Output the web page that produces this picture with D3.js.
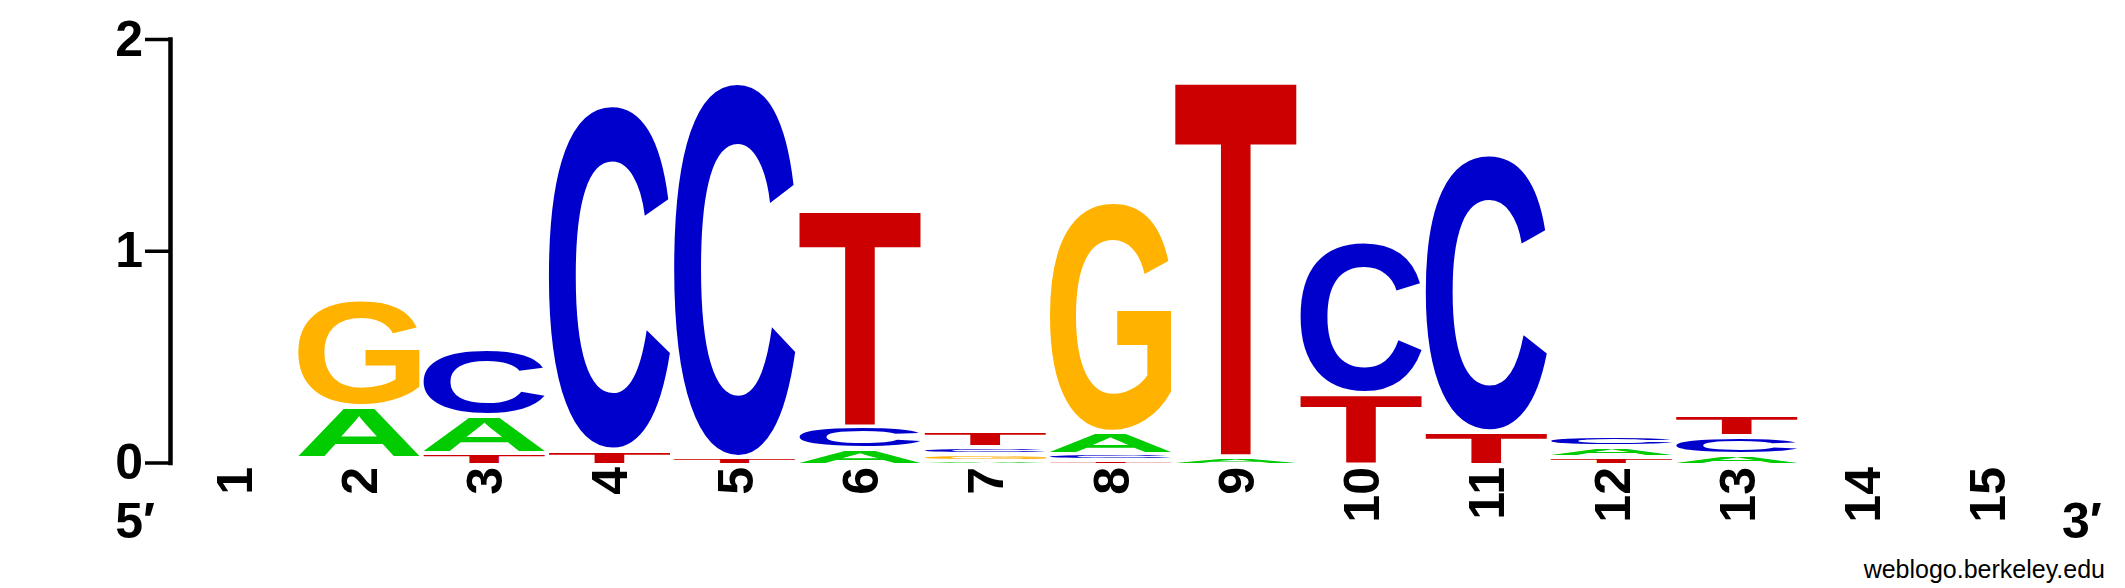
<!DOCTYPE html>
<html>
<head>
<style>
  body {
    background-color: white;
    margin: 0px;
  }
  svg {
    display: block;
  }
</style>
<script src="https://d3js.org/d3.v7.min.js"></script>
</head>
<body>
<svg></svg>
<script>
// information content (bits) per base
const positions = [1, 2, 3, 4, 5, 6, 7, 8, 9, 10, 11, 12, 13, 14, 15];
const bitsA = [0, 0.244, 0.178, 0,     0,     0.075, 0.018, 0.103, 0.039, 0,     0,     0.050, 0.051, 0, 0];
const bitsC = [0, 0.016, 0.313, 1.628, 1.768, 0.104, 0.033, 0.030, 0,     0.717, 1.308, 0.052, 0.084, 0, 0];
const bitsG = [0, 0.504, 0,     0,     0,     0,     0.030, 1.087, 0,     0,     0,     0,     0,     0, 0];
const bitsT = [0, 0.013, 0.054, 0.070, 0.035, 1.020, 0.074, 0.021, 1.765, 0.335, 0.157, 0.035, 0.098, 0, 0];
const yTicks = [0, 1, 2];

const bases = ["A", "C", "G", "T"];
const baseColor = {A: "#00cc00", C: "#0000cc", G: "#ffb300", T: "#cc0000"};
const fontFamily = "'Liberation Sans', Arial, Helvetica, sans-serif";
const glyphSize = 1000;

const width = 2125,
    height = 588;

const svg = d3.select("svg")
    .attr("width", width)
    .attr("height", height);

svg.append("rect")
    .attr("width", width)
    .attr("height", height)
    .attr("fill", "white");

const x = d3.scaleBand()
    .domain(positions)
    .range([171, 2050])
    .paddingInner(0.034)
    .paddingOuter(0.017);

const y = d3.scaleLinear()
    .domain([0, 2])
    .range([462.5, 39]);

// raster ink box of each glyph, so a letter can be stretched to fill its slot
const glyph = {};
(function() {
  const size = 1500, ox = 250, oy = 1150;
  const c = document.createElement("canvas");
  c.width = size;
  c.height = size;
  const ctx = c.getContext("2d");
  ctx.font = "bold " + glyphSize + "px " + fontFamily;
  ctx.textBaseline = "alphabetic";
  bases.forEach(function(b) {
    ctx.clearRect(0, 0, size, size);
    ctx.fillStyle = "black";
    ctx.fillText(b, ox, oy);
    const data = ctx.getImageData(0, 0, size, size).data;
    let x0 = size, x1 = -1, y0 = size, y1 = -1;
    for (let j = 0; j < size; j++) {
      for (let i = 0; i < size; i++) {
        if (data[(j * size + i) * 4 + 3] > 127) {
          if (i < x0) x0 = i;
          if (i > x1) x1 = i;
          if (j < y0) y0 = j;
          if (j > y1) y1 = j;
        }
      }
    }
    glyph[b] = {left: ox - x0, right: x1 + 1 - ox, asc: oy - y0, desc: y1 + 1 - oy};
  });
})();

const columns = positions.map(function(p, i) {
  const vals = {A: bitsA[i], C: bitsC[i], G: bitsG[i], T: bitsT[i]};
  const order = bases.slice().sort(function(a, b) { return vals[a] - vals[b]; });
  let cum = 0;
  const letters = [];
  order.forEach(function(b) {
    if (vals[b] > 0) {
      letters.push({base: b, y0: cum, y1: cum + vals[b]});
      cum += vals[b];
    }
  });
  return {pos: p, letters: letters};
});

function gap(h) {
  return Math.min(4.3, 0.65 * h);
}

const stacks = svg.append("g").selectAll("g")
    .data(columns)
    .join("g");

stacks.selectAll("text")
    .data(function(d) {
      return d.letters.map(function(l) { return Object.assign({pos: d.pos}, l); });
    })
    .join("text")
    .text(function(d) { return d.base; })
    .attr("font-family", fontFamily)
    .attr("font-weight", "bold")
    .attr("font-size", glyphSize)
    .attr("fill", function(d) { return baseColor[d.base]; })
    .attr("display", function(d) {
      const h = y(d.y0) - y(d.y1);
      return h - gap(h) < 1.2 ? "none" : null;
    })
    .attr("transform", function(d) {
      const g = glyph[d.base];
      const bottom = y(d.y0),
          top = y(d.y1);
      const inkTop = top + gap(bottom - top);
      const sx = x.bandwidth() / (g.left + g.right);
      const sy = (bottom - inkTop) / (g.asc + g.desc);
      return "translate(" + (x(d.pos) + g.left * sx) + "," + (inkTop + g.asc * sy) + ") scale(" + sx + "," + sy + ")";
    });

// y axis
const yAxis = svg.append("g")
    .attr("transform", "translate(170,0)")
    .call(d3.axisLeft(y).tickValues(yTicks).tickSize(25).tickSizeOuter(0).tickPadding(2).tickFormat(d3.format("d")));

yAxis.select(".domain")
    .attr("stroke-width", 4.5)
    .attr("stroke-linecap", "square");
yAxis.selectAll(".tick line")
    .attr("stroke-width", 3.5);
yAxis.selectAll(".tick text")
    .attr("font-family", fontFamily)
    .attr("font-weight", "bold")
    .attr("font-size", 50)
    .attr("fill", "black");

// position numbers, rotated
svg.append("g").selectAll("text")
    .data(positions)
    .join("text")
    .attr("transform", function(d) { return "translate(" + (x(d) + x.bandwidth() / 2) + ",467) rotate(-90)"; })
    .attr("dy", "0.36em")
    .attr("text-anchor", "end")
    .attr("font-family", fontFamily)
    .attr("font-weight", "bold")
    .attr("font-size", 50)
    .text(function(d) { return d; });

svg.append("text")
    .attr("x", 155)
    .attr("y", 538)
    .attr("text-anchor", "end")
    .attr("font-family", fontFamily)
    .attr("font-weight", "bold")
    .attr("font-size", 50)
    .text("5′");

svg.append("text")
    .attr("x", 2062)
    .attr("y", 538)
    .attr("font-family", fontFamily)
    .attr("font-weight", "bold")
    .attr("font-size", 50)
    .text("3′");

svg.append("text")
    .attr("x", 2105)
    .attr("y", 578)
    .attr("text-anchor", "end")
    .attr("font-family", fontFamily)
    .attr("font-size", 25)
    .text("weblogo.berkeley.edu");
</script>
</body>
</html>
